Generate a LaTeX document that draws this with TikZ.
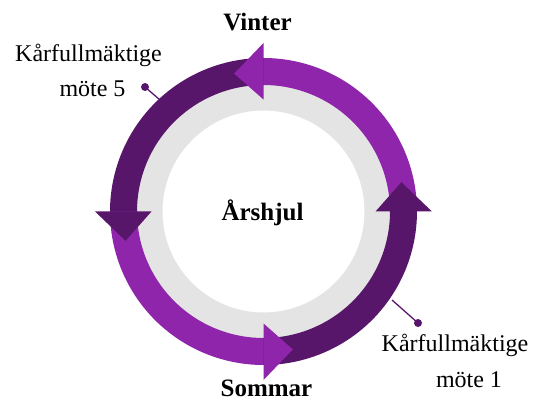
\documentclass[tikz,border=0pt]{standalone}
\usepackage{fontspec}
\setmainfont{Liberation Serif}
\definecolor{lightpurple}{RGB}{143,37,170}
\definecolor{darkpurple}{RGB}{88,22,106}
\definecolor{ringgray}{RGB}{228,228,228}
\begin{document}
\begin{tikzpicture}[x=1pt,y=1pt,
  lbl/.style={font=\fontsize{24}{28}\selectfont, inner sep=0pt},
  season/.style={font=\bfseries\fontsize{25}{30}\selectfont, inner sep=0pt},
  leader/.style={draw=darkpurple, line width=1.3pt},
  dotnode/.style={circle, fill=darkpurple, minimum size=8pt, inner sep=0pt}]
\useasboundingbox (-263.5,-189.5) rectangle (284.5,211.5);
% gray ring
\fill[ringgray, even odd rule] (0,0) circle[radius=128pt] (0,0) circle[radius=101pt];
% arc bodies
\newcommand{\ringseg}[3]{\fill[#3] (#1:126.5pt) arc[start angle=#1,end angle=#2,radius=126.5pt] -- (#2:153.5pt) arc[start angle=#2,end angle=#1,radius=153.5pt] -- cycle;}
\ringseg{0}{91}{lightpurple}
\ringseg{90}{181}{darkpurple}
\ringseg{180}{271}{lightpurple}
\ringseg{270}{361}{darkpurple}
% arrow heads
\newcommand{\ringhead}[2]{\fill[#2] (#1:112pt) -- (#1:168.5pt) -- (#1+12:141pt) -- cycle;}
\ringhead{90}{lightpurple}
\ringhead{180}{darkpurple}
\ringhead{270}{lightpurple}
\ringhead{0}{darkpurple}
% texts
\node[season] (vinter) at (-6,189) {Vinter};
\node[season] (sommar) at (3,-177) {Sommar};
\node[season] (hjul) at (-1,-1) {Årshjul};
\node[lbl] (k5a) at (-175,156.5) {Kårfullmäktige};
\node[lbl] (k5b) at (-171,123) {möte 5};
\node[lbl] (k1a) at (191.5,-133.5) {Kårfullmäktige};
\node[lbl] (k1b) at (205.5,-168.5) {möte 1};
% leaders
\coordinate (p5) at (-103.5,111.5);
\node[dotnode] (d5) at (-118.5,124.5) {};
\coordinate (p1) at (128.5,-88.5);
\node[dotnode] (d1) at (154.5,-111.5) {};
\draw[leader] (p5) -- (d5.center);
\draw[leader] (p1) -- (d1.center);
\end{tikzpicture}
\end{document}
